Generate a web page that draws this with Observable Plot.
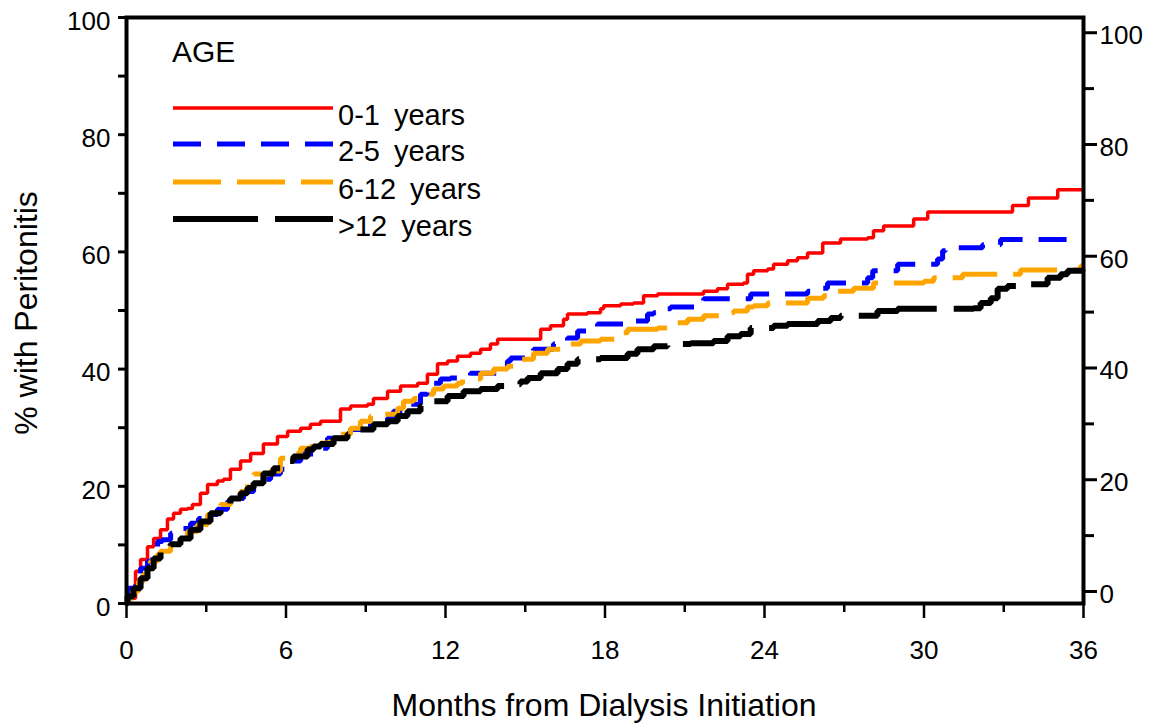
<!DOCTYPE html>
<html>
<head>
<meta charset="utf-8">
<script src="https://cdn.jsdelivr.net/npm/d3@7"></script>
<script src="https://cdn.jsdelivr.net/npm/@observablehq/plot@0.6"></script>
<style>
  html, body { margin: 0; padding: 0; background: #ffffff; }
  svg { display: block; }
</style>
</head>
<body>
<div id="chart"></div>
<script>
// ---- Data ----
const seriesNames  = ["0-1 years", "2-5 years", "6-12 years", ">12 years"];
const seriesColors = ["#ff0000", "#0000ff", "#ffa500", "#000000"];

const age01Months = [0,0.04,0.34,0.53,0.79,1.02,1.28,1.54,1.77,2.03,2.29,2.48,2.78,3.05,3.42,3.65,3.91,4.29,4.67,5.15,5.68,6.06,6.55,6.92,7.30,8.05,8.43,9.07,9.29,9.82,10.31,10.95,11.32,11.70,12.08,12.45,12.94,13.32,13.69,13.96,15.58,15.95,16.44,16.59,17.34,17.83,17.95,18.59,19.07,19.45,19.98,21.71,22.23,22.61,23.21,23.36,23.59,24.12,24.34,24.87,25.24,25.62,26.19,26.86,27.88,28.10,28.48,29.61,30.14,33.33,33.93,35.03,36];
const age01Pct    = [0,0.9,5.5,7.5,9.7,11.1,12.6,14.4,15.4,16.1,16.2,16.9,18.8,20.3,20.9,21.2,22.9,24.3,25.6,27.2,28.5,29.4,29.9,30.6,31.1,33.2,33.7,34.0,35.0,36.2,37.1,37.6,39.1,40.9,41.4,42.2,42.7,43.4,44.3,45.1,46.8,47.4,48.5,49.4,49.6,50.3,50.8,51.1,51.3,52.5,52.8,53.3,53.7,54.5,54.7,56.2,56.8,57.1,57.9,58.5,59.0,59.8,61.5,62.2,62.4,63.6,64.4,65.6,66.8,67.9,69.2,70.6,70.6];

const age25Months = [0,0.04,0.34,0.53,0.79,0.98,1.17,1.35,1.66,2.03,2.41,2.71,3.05,3.42,3.80,4.18,4.40,4.78,5.04,5.42,5.79,6.17,6.55,7.04,7.56,8.43,9.18,9.82,10.04,10.57,11.06,11.32,11.81,12.19,12.94,14.33,14.45,15.31,16.06,16.59,16.97,17.72,19.07,19.60,19.83,20.35,20.47,21.71,23.48,25.62,25.81,26.37,27.88,28.07,29.01,30.51,30.70,30.81,32.20,32.88,36];
const age25Pct    = [0,2.6,4.6,6.0,7.2,9.2,10.6,10.9,12.0,12.8,13.7,14.5,15.2,16.1,17.4,17.9,19.1,20.3,21.2,22.1,22.9,24.3,25.5,26.5,28.2,29.7,30.8,31.6,32.8,34.0,35.7,37.6,38.3,38.5,39.3,41.4,41.9,43.4,44.3,45.3,46.5,47.7,48.2,49.4,49.6,50.3,50.6,52.0,52.8,53.3,53.8,54.7,55.6,56.8,57.9,58.8,60.2,60.7,61.2,62.1,62.1];

const age612Months = [0,0.04,0.23,0.45,0.64,0.90,1.17,1.28,1.66,2.03,2.29,2.67,3.05,3.27,3.54,3.91,4.29,4.55,4.78,5.42,5.79,6.17,6.55,6.92,7.30,7.67,8.05,8.43,8.80,9.18,9.44,10.20,10.42,10.80,11.06,11.55,11.93,12.45,12.64,13.32,13.81,14.33,14.82,15.31,15.84,16.44,17.08,17.83,18.47,18.85,19.98,20.47,21.11,21.71,22.35,22.84,23.36,23.59,24.12,25.62,26.22,26.75,27.35,28.10,30.00,30.36,31.45,33.63,35.89,36];
const age612Pct    = [0,0.9,2.1,3.8,5.0,7.2,8.4,8.9,10.1,11.1,12.3,13.5,15.2,16.1,16.9,17.9,19.1,20.9,22.1,22.6,24.8,25.6,26.5,26.8,27.4,28.2,28.9,29.9,31.1,32.0,32.3,33.3,34.5,35.0,35.7,36.6,37.1,37.6,38.3,39.3,40.0,40.5,41.7,42.7,43.4,44.3,44.8,45.1,46.2,46.8,47.0,47.9,48.5,49.1,49.6,49.9,50.6,50.8,51.3,52.1,52.5,53.3,53.8,54.7,55.0,55.6,56.2,56.9,57.6,57.6];

const age12Months = [0,0.04,0.26,0.53,0.79,1.02,1.28,1.66,2.03,2.41,2.78,3.16,3.54,3.91,4.29,4.55,4.78,5.15,5.53,5.91,6.28,6.81,7.04,7.30,7.79,8.31,8.80,9.29,9.82,10.20,10.57,11.06,11.55,12.08,12.68,13.32,13.96,14.56,14.82,15.09,15.58,16.22,16.59,16.97,17.83,18.85,19.22,19.83,20.35,21.22,22.08,22.61,23.10,23.48,24.34,24.87,26.00,26.49,26.86,28.25,29.01,31.87,32.13,32.51,32.77,33.14,33.63,34.65,35.14,35.40,35.97,36];
const age12Pct    = [0,1.2,2.6,4.3,6.0,7.7,8.9,10.1,11.1,12.6,14.0,15.4,16.9,17.9,18.8,19.7,20.5,22.2,23.1,24.3,25.1,26.3,26.8,27.2,28.2,28.9,29.7,30.6,31.1,32.0,32.8,33.7,34.5,35.4,36.2,36.6,37.1,37.4,37.9,38.5,39.3,40.0,40.9,41.7,41.9,42.6,43.4,43.9,44.3,44.4,44.8,45.6,46.0,47.0,47.4,47.7,48.2,48.7,49.1,49.9,50.3,50.4,51.3,52.1,53.7,54.2,54.5,55.6,56.2,56.8,56.9,56.9];

// Tick values
const xMajorTicks = [0, 6, 12, 18, 24, 30, 36];
const xMinorTicks = [3, 9, 15, 21, 27, 33];
const yMajorTicks = [0, 20, 40, 60, 80, 100];
const yMinorTicks = [10, 30, 50, 70, 90];
const rightMajorTicks = [0, 20, 40, 60, 80, 100];
const rightMinorTicks = [10, 30, 50, 70, 90];
// The right-hand axis in the reference is slightly offset from the left one:
// its 0 sits at about 2.05 and its 100 at about 97.4 on the left scale.
const rightZeroOnLeft = 2.05;
const rightHundredOnLeft = 97.4;
const toLeft = v => rightZeroOnLeft + v * (rightHundredOnLeft - rightZeroOnLeft) / 100;
const fromLeft = d => (d - rightZeroOnLeft) * 100 / (rightHundredOnLeft - rightZeroOnLeft);

// ---- Build table ----
const monthArrays = [age01Months, age25Months, age612Months, age12Months];
const pctArrays = [age01Pct, age25Pct, age612Pct, age12Pct];
const rows = [];
seriesNames.forEach((name, k) => {
  monthArrays[k].forEach((m, i) => rows.push({series: name, month: m, pct: pctArrays[k][i]}));
});

const styles = {
  "0-1 years":  {width: 3.5, dash: null},
  "2-5 years":  {width: 5,   dash: "28,16"},
  "6-12 years": {width: 5,   dash: "48,16"},
  ">12 years":  {width: 6,   dash: "85,17"}
};

const W = 1156, H = 728;
const lineMarks = seriesNames.map((name, k) =>
  Plot.line(rows.filter(r => r.series === name), {
    x: "month", y: "pct", curve: "step-after",
    stroke: seriesColors[k], strokeWidth: styles[name].width,
    strokeDasharray: styles[name].dash, strokeLinecap: "butt", strokeLinejoin: "miter"
  })
);

const chart = Plot.plot({
  width: W, height: H,
  marginLeft: 126, marginRight: 73, marginTop: 17, marginBottom: 125,
  x: {domain: [0, 36], label: null},
  y: {domain: [0, 100], label: null},
  style: {fontFamily: "'Liberation Sans', Arial, sans-serif", fontSize: "26px", color: "#000", background: "#fff"},
  marks: [
    ...lineMarks,
    // left axis
    Plot.axisY(yMajorTicks, {anchor: "left", tickSize: 8, strokeWidth: 3, fill: "none", label: null}),
    Plot.axisY(yMinorTicks, {anchor: "left", tickSize: 8, strokeWidth: 3, fill: "none", label: null}),
    Plot.axisY(yMajorTicks, {anchor: "left", tickSize: 0, tickPadding: 16, dy: 4, fontSize: 26, label: null}),
    // right axis (offset scale)
    Plot.axisY(rightMajorTicks.map(toLeft), {anchor: "right", tickSize: 13, strokeWidth: 3, fill: "none", label: null}),
    Plot.axisY(rightMinorTicks.map(toLeft), {anchor: "right", tickSize: 10, strokeWidth: 3, fill: "none", label: null}),
    Plot.axisY(rightMajorTicks.map(toLeft), {anchor: "right", tickSize: 0, tickPadding: 16, dy: 3, fontSize: 26, label: null,
      tickFormat: d => String(Math.round(fromLeft(d)))}),
    // bottom axis
    Plot.axisX(xMajorTicks, {anchor: "bottom", tickSize: 15, strokeWidth: 2.5, fill: "none", label: null}),
    Plot.axisX(xMinorTicks, {anchor: "bottom", tickSize: 9, strokeWidth: 2.5, fill: "none", label: null}),
    Plot.axisX(xMajorTicks, {anchor: "bottom", tickSize: 0, tickPadding: 37, fontSize: 26, label: null}),
    Plot.frame({stroke: "#000", strokeWidth: 4})
  ]
});

document.getElementById("chart").appendChild(chart);

// ---- Titles & legend (drawn on the same SVG) ----
const svg = d3.select(chart);
const font = "'Liberation Sans', Arial, sans-serif";
svg.append("text")
  .attr("x", 604).attr("y", 716)
  .attr("text-anchor", "middle")
  .attr("font-family", font).attr("font-size", 32).attr("fill", "#000")
  .text("Months from Dialysis Initiation");
svg.append("text")
  .attr("transform", "translate(37,313) rotate(-90)")
  .attr("text-anchor", "middle")
  .attr("font-family", font).attr("font-size", 32).attr("fill", "#000")
  .text("% with Peritonitis");

const legend = svg.append("g").attr("font-family", font).attr("fill", "#000").attr("text-anchor", "start");
legend.append("text").attr("x", 172).attr("y", 62).attr("font-size", 30).attr("text-anchor", "start").text("AGE");
const legendY = [108, 144, 182, 219];
seriesNames.forEach((name, k) => {
  legend.append("line")
    .attr("x1", 173).attr("x2", 333)
    .attr("y1", legendY[k]).attr("y2", legendY[k])
    .attr("stroke", seriesColors[k])
    .attr("stroke-width", styles[name].width)
    .attr("stroke-dasharray", styles[name].dash);
  legend.append("text")
    .attr("x", 338).attr("y", legendY[k] + 17)
    .attr("font-size", 29)
    .attr("text-anchor", "start")
    .attr("word-spacing", "6px")
    .text(name);
});
</script>
</body>
</html>
